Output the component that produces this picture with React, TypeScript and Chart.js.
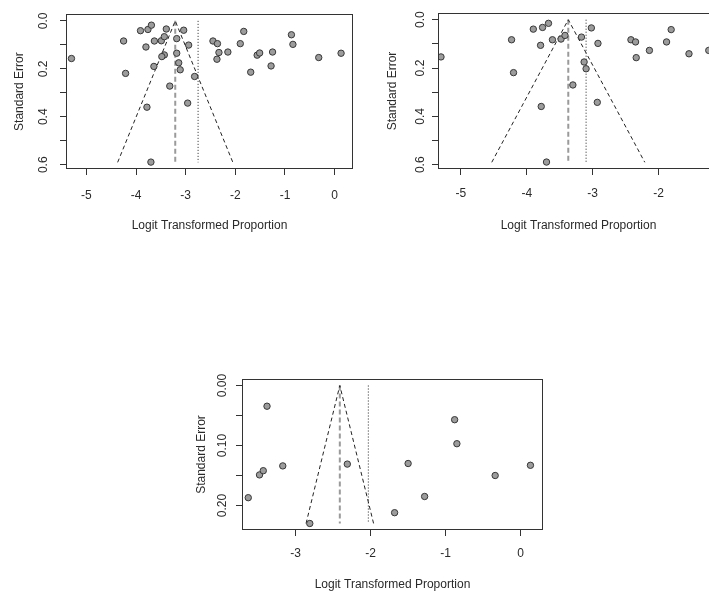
import React, { useEffect, useRef } from 'react';
import { Chart, registerables } from 'chart.js';

Chart.register(...registerables);

// ---------- Data ----------
// Plot 1 (top left): all studies
const plot1X = [-5.30, -4.25, -4.21, -3.91, -3.80, -3.76, -3.69, -3.63, -3.64, -3.78, -3.70, -3.49, -3.43, -3.43, -3.48, -3.39, -3.32, -3.18, -3.18, -3.14, -3.11, -3.04, -2.94, -2.96, -2.82, -2.45, -2.36, -2.33, -2.37, -2.15, -1.90, -1.83, -1.69, -1.56, -1.51, -1.28, -1.25, -0.87, -0.84, -0.32, 0.13];
const plot1SE = [0.157, 0.084, 0.219, 0.041, 0.109, 0.036, 0.018, 0.084, 0.190, 0.360, 0.589, 0.083, 0.066, 0.142, 0.149, 0.034, 0.272, 0.074, 0.135, 0.175, 0.204, 0.039, 0.101, 0.343, 0.232, 0.084, 0.095, 0.132, 0.160, 0.130, 0.095, 0.044, 0.214, 0.143, 0.134, 0.188, 0.130, 0.058, 0.098, 0.153, 0.135];
const plot1Pooled = -3.21;
const plot1Dotted = -2.75;
const plot1SEMax = 0.59;
const plot1FunnelLeft = -4.37;
const plot1FunnelRight = -2.05;

// Plot 2 (top right, cropped at the window edge)
const plot2X = [-5.30, -4.23, -4.20, -3.90, -3.79, -3.76, -3.67, -3.61, -3.78, -3.70, -3.48, -3.42, -3.30, -3.17, -3.02, -2.92, -3.13, -3.10, -2.93, -2.42, -2.35, -2.34, -2.14, -1.88, -1.81, -1.54, -1.24];
const plot2SE = [0.154, 0.083, 0.219, 0.039, 0.106, 0.032, 0.015, 0.083, 0.359, 0.589, 0.080, 0.065, 0.270, 0.072, 0.034, 0.098, 0.175, 0.203, 0.342, 0.083, 0.092, 0.157, 0.127, 0.092, 0.041, 0.141, 0.127];
const plot2Pooled = -3.37;
const plot2Dotted = -3.10;
const plot2SEMax = 0.59;
const plot2FunnelLeft = -4.53;
const plot2FunnelRight = -2.21;

// Plot 3 (bottom)
const plot3X = [-3.63, -3.48, -3.43, -3.38, -3.17, -2.81, -2.31, -1.68, -1.50, -1.28, -0.88, -0.85, -0.34, 0.13];
const plot3SE = [0.187, 0.149, 0.142, 0.0345, 0.134, 0.230, 0.131, 0.212, 0.130, 0.185, 0.057, 0.097, 0.150, 0.133];
const plot3Pooled = -2.41;
const plot3Dotted = -2.03;
const plot3SEMax = 0.23;
const plot3FunnelLeft = -2.86;
const plot3FunnelRight = -1.96;

const xTitle = 'Logit Transformed Proportion';
const yTitle = 'Standard Error';

// ---------- Layout / style ----------
const FONT = "'Liberation Sans', Arial, Helvetica, sans-serif";
const TEXT = '#2a2a2a';
const LINE = '#333333';

type Spec = {
  left: number; top: number; width: number; height: number;
  padTop: number; padRight: number; yW: number; xH: number;
  yLabelPad: number; xLabelPad: number; xTitlePad: number; yTitlePad: number;
  xs: number[]; ses: number[];
  xMin: number; xMax: number; yMin: number; yMax: number; yStep: number; yDec: number;
  pooled: number; dotted: number; seMax: number; fL: number; fR: number;
};

const specs: Spec[] = [
  {
    left: 0, top: 0, width: 360, height: 240, padTop: 14, padRight: 8, yW: 67, xH: 72,
    yLabelPad: 8, xLabelPad: 13.5, xTitlePad: 7.3, yTitlePad: 12.5,
    xs: plot1X, ses: plot1SE, xMin: -5.39, xMax: 0.35, yMin: -0.0236, yMax: 0.6136, yStep: 0.1, yDec: 1,
    pooled: plot1Pooled, dotted: plot1Dotted, seMax: plot1SEMax, fL: plot1FunnelLeft, fR: plot1FunnelRight,
  },
  {
    left: 373, top: 0, width: 353, height: 240, padTop: 14, padRight: 8, yW: 66, xH: 72,
    yLabelPad: 3, xLabelPad: 11.5, xTitlePad: 7.3, yTitlePad: 12,
    xs: plot2X, ses: plot2SE, xMin: -5.33, xMax: -1.10, yMin: -0.0236, yMax: 0.6136, yStep: 0.1, yDec: 1,
    pooled: plot2Pooled, dotted: plot2Dotted, seMax: plot2SEMax, fL: plot2FunnelLeft, fR: plot2FunnelRight,
  },
  {
    left: 177, top: 366, width: 373, height: 235, padTop: 14, padRight: 8, yW: 66, xH: 72,
    yLabelPad: 1.3, xLabelPad: 10.5, xTitlePad: 9.3, yTitlePad: 17,
    xs: plot3X, ses: plot3SE, xMin: -3.70, xMax: 0.284, yMin: -0.0092, yMax: 0.2392, yStep: 0.05, yDec: 2,
    pooled: plot3Pooled, dotted: plot3Dotted, seMax: plot3SEMax, fL: plot3FunnelLeft, fR: plot3FunnelRight,
  },
];

const boxPlugin = {
  id: 'rbox',
  beforeDatasetsDraw(chart: any) {
    const { ctx, chartArea } = chart;
    const l = Math.round(chartArea.left) - 0.5;
    const t = Math.round(chartArea.top) - 0.5;
    const r = Math.round(chartArea.right) + 0.5;
    const b = Math.round(chartArea.bottom) + 0.5;
    ctx.save();
    ctx.strokeStyle = LINE;
    ctx.lineWidth = 1;
    ctx.strokeRect(l, t, r - l, b - t);
    ctx.restore();
  },
};

function makeConfig(s: Spec): any {
  const points = s.xs.map((x, i) => ({ x, y: s.ses[i] }));
  return {
    type: 'scatter',
    data: {
      datasets: [
        {
          data: points,
          pointRadius: 3.2,
          pointBackgroundColor: '#9c9c9c',
          pointBorderColor: '#383838',
          pointBorderWidth: 1,
          showLine: false,
        },
        {
          data: [{ x: s.fL, y: s.seMax }, { x: s.pooled, y: 0 }, { x: s.fR, y: s.seMax }],
          showLine: true,
          borderColor: '#222222',
          borderWidth: 1,
          borderDash: [4, 3],
          pointRadius: 0,
          fill: false,
        },
        {
          data: [{ x: s.pooled, y: 0 }, { x: s.pooled, y: s.seMax }],
          showLine: true,
          borderColor: '#9a9a9a',
          borderWidth: 2,
          borderDash: [5, 3],
          pointRadius: 0,
          fill: false,
        },
        {
          data: [{ x: s.dotted, y: 0 }, { x: s.dotted, y: s.seMax }],
          showLine: true,
          borderColor: '#222222',
          borderWidth: 1,
          borderDash: [1, 2],
          pointRadius: 0,
          fill: false,
        },
      ],
    },
    options: {
      responsive: false,
      animation: false,
      events: [],
      layout: { padding: { top: s.padTop, right: s.padRight, left: 0, bottom: 0 } },
      plugins: { legend: { display: false }, tooltip: { enabled: false } },
      scales: {
        x: {
          type: 'linear',
          position: 'bottom',
          min: s.xMin,
          max: s.xMax,
          afterFit: (sc: any) => { sc.height = s.xH; },
          border: { display: false },
          grid: { drawOnChartArea: false, drawTicks: true, tickLength: 7, color: LINE, lineWidth: 1 },
          ticks: {
            stepSize: 1,
            includeBounds: false,
            autoSkip: false,
            maxRotation: 0,
            padding: s.xLabelPad,
            color: TEXT,
            font: { family: FONT, size: 12 },
            callback: (v: any) => String(v),
          },
          title: {
            display: true,
            text: xTitle,
            color: TEXT,
            font: { family: FONT, size: 12 },
            padding: { top: 0, bottom: s.xTitlePad },
          },
        },
        y: {
          type: 'linear',
          position: 'left',
          reverse: true,
          min: s.yMin,
          max: s.yMax,
          afterFit: (sc: any) => { sc.width = s.yW; },
          border: { display: false },
          grid: { drawOnChartArea: false, drawTicks: true, tickLength: 7, color: LINE, lineWidth: 1 },
          ticks: {
            stepSize: s.yStep,
            includeBounds: false,
            autoSkip: false,
            minRotation: 90,
            maxRotation: 90,
            crossAlign: 'center',
            padding: s.yLabelPad,
            color: TEXT,
            font: { family: FONT, size: 12 },
            callback: (v: any) => (Math.round(v / s.yStep) % 2 === 0 ? Number(v).toFixed(s.yDec) : ''),
          },
          title: {
            display: true,
            text: yTitle,
            color: TEXT,
            font: { family: FONT, size: 12 },
            padding: { top: s.yTitlePad, bottom: 0 },
          },
        },
      },
    },
    plugins: [boxPlugin],
  };
}

function Funnel({ spec }: { spec: Spec }) {
  const ref = useRef<HTMLCanvasElement | null>(null);
  useEffect(() => {
    if (!ref.current) return;
    const chart = new Chart(ref.current, makeConfig(spec));
    return () => chart.destroy();
  }, [spec]);
  return (
    <canvas
      ref={ref}
      width={spec.width}
      height={spec.height}
      style={{ position: 'absolute', left: spec.left, top: spec.top, width: spec.width, height: spec.height }}
    />
  );
}

export default function App() {
  return (
    <div
      style={{
        position: 'absolute',
        left: 0,
        top: 0,
        width: 709,
        height: 592,
        overflow: 'hidden',
        background: '#ffffff',
      }}
    >
      {specs.map((s, i) => (
        <Funnel key={i} spec={s} />
      ))}
    </div>
  );
}
